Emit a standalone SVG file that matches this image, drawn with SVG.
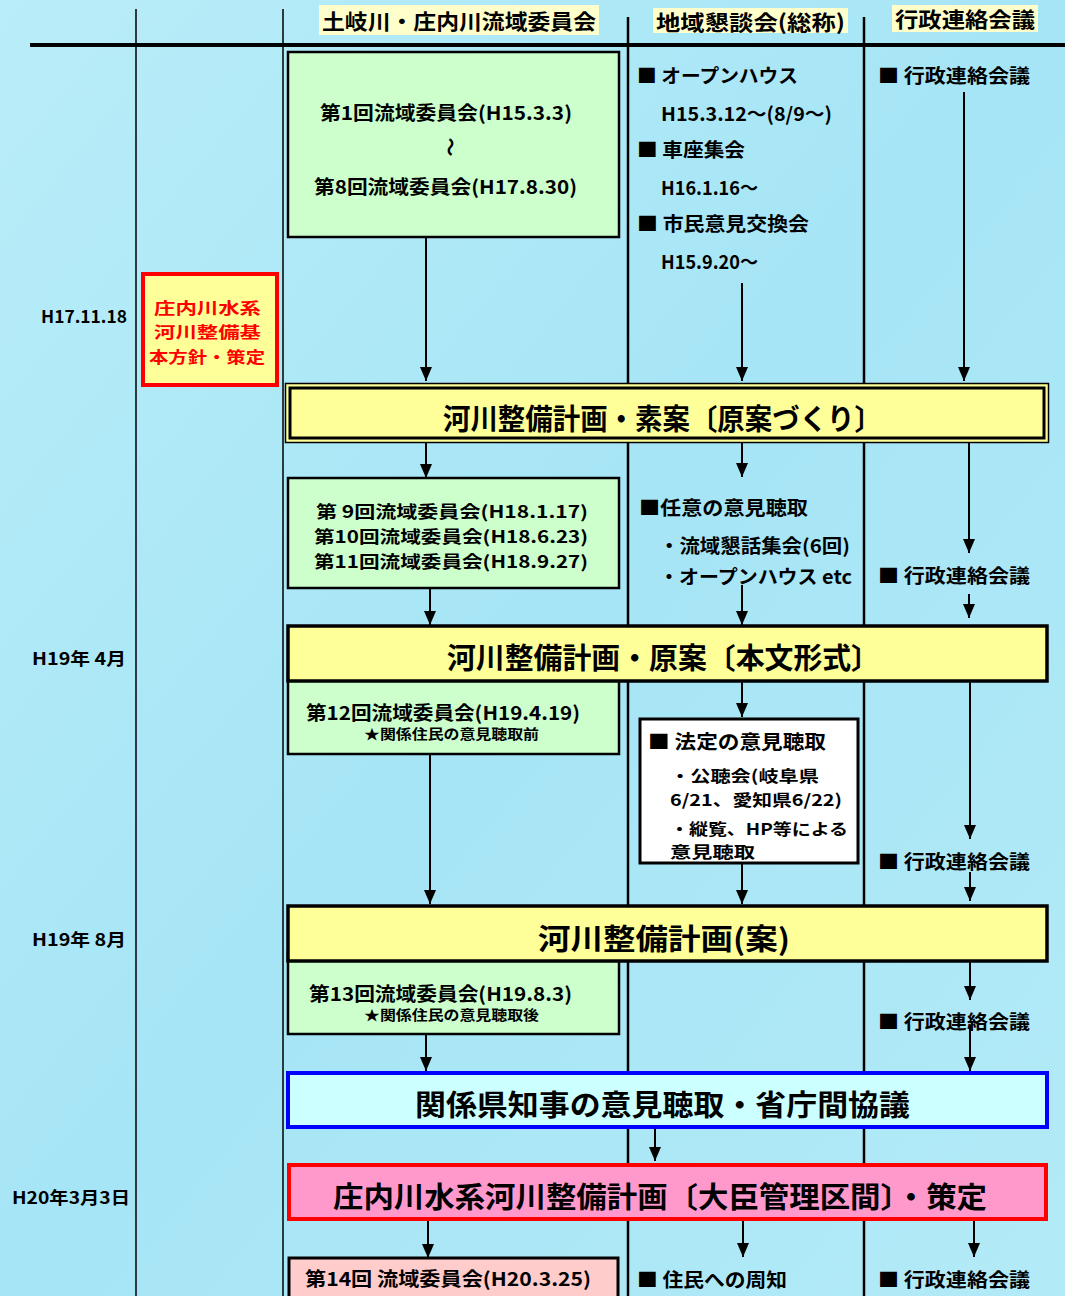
<svg xmlns="http://www.w3.org/2000/svg" width="1065" height="1296" viewBox="0 0 1065 1296">
<defs>
<linearGradient id="bg" x1="0" y1="0" x2="1" y2="1">
<stop offset="0" stop-color="#B9EDF8"/>
<stop offset="0.5" stop-color="#A6E5F6"/>
<stop offset="1" stop-color="#B3EAF7"/>
</linearGradient>
<marker id="ahd" viewBox="0 0 14 12" refX="14" refY="6" markerWidth="14" markerHeight="12" markerUnits="userSpaceOnUse" orient="auto">
<path d="M0,0 L14,6 L0,12 Z" fill="#000"/>
</marker>
</defs>
<style>
text{font-family:"Noto Sans CJK JP","Noto Sans CJK SC",sans-serif;font-weight:bold;fill:#000;dominant-baseline:central}
.t19{font-size:19px}
.t16{font-size:16px}
.t17{font-size:17px}
.t14{font-size:14px}
.big{font-size:29px}
.hdr{font-size:21px}
.mid{text-anchor:middle}
.red{fill:#FF0000}
.box{stroke:#000;stroke-width:2.5}
.green{fill:#CCFFCC}
.conn line{stroke:#000;stroke-width:2;marker-end:url(#ahd)}
</style>
<rect x="0" y="0" width="1065" height="1296" fill="url(#bg)"/>
<g id="grid" stroke="#000">
<line x1="30" y1="45" x2="1065" y2="45" stroke-width="4"/>
<line x1="136" y1="9" x2="136" y2="1296" stroke-width="1.5"/>
<line x1="283" y1="9" x2="283" y2="1296" stroke-width="1.5"/>
<line x1="628" y1="17" x2="628" y2="1296" stroke-width="2.5"/>
<line x1="864" y1="17" x2="864" y2="1296" stroke-width="2.5"/>
</g>
<g id="headers">
<rect x="319" y="5" width="280" height="30" fill="#FFFFCC"/>
<text class="hdr" x="322" y="20" textLength="274" lengthAdjust="spacingAndGlyphs">土岐川・庄内川流域委員会</text>
<rect x="653" y="8" width="195" height="25" fill="#FFFFCC"/>
<text class="hdr" x="656" y="21" textLength="189" lengthAdjust="spacingAndGlyphs">地域懇談会(総称)</text>
<rect x="892" y="5" width="146" height="27" fill="#FFFFCC"/>
<text class="hdr" x="895" y="18" textLength="140" lengthAdjust="spacingAndGlyphs">行政連絡会議</text>
</g>
<g id="dates">
<text class="t17" x="41" y="315" textLength="86" lengthAdjust="spacingAndGlyphs">H17.11.18</text>
<text class="t17" x="32" y="657" textLength="94" lengthAdjust="spacingAndGlyphs">H19年 4月</text>
<text class="t17" x="32" y="938" textLength="94" lengthAdjust="spacingAndGlyphs">H19年 8月</text>
<text class="t17" x="12" y="1196" textLength="118" lengthAdjust="spacingAndGlyphs">H20年3月3日</text>
</g>
<g class="conn">
<line x1="426" y1="237" x2="426" y2="381"/>
<line x1="742" y1="283" x2="742" y2="381"/>
<line x1="964" y1="92" x2="964" y2="381"/>
<line x1="426" y1="442" x2="426" y2="478"/>
<line x1="742" y1="442" x2="742" y2="477"/>
<line x1="969" y1="442" x2="969" y2="553"/>
<line x1="430" y1="588" x2="430" y2="625"/>
<line x1="742" y1="585" x2="742" y2="625"/>
<line x1="969" y1="594" x2="969" y2="618"/>
<line x1="742" y1="682" x2="742" y2="717"/>
<line x1="430" y1="754" x2="430" y2="904"/>
<line x1="742" y1="863" x2="742" y2="904"/>
<line x1="970" y1="682" x2="970" y2="839"/>
<line x1="970" y1="872" x2="970" y2="901"/>
<line x1="970" y1="962" x2="970" y2="1000"/>
<line x1="970" y1="1025" x2="970" y2="1071"/>
<line x1="426" y1="1034" x2="426" y2="1071"/>
<line x1="655" y1="1128" x2="655" y2="1161"/>
<line x1="428" y1="1220" x2="428" y2="1258"/>
<line x1="743" y1="1220" x2="743" y2="1257"/>
<line x1="974" y1="1220" x2="974" y2="1257"/>
</g>
<g id="committee1">
<rect class="box green" x="288" y="52" width="331" height="185"/>
<text class="t19" x="320" y="111" textLength="252" lengthAdjust="spacingAndGlyphs">第1回流域委員会(H15.3.3)</text>
<text class="t19 mid" x="0" y="0" transform="translate(451,147) rotate(90)">～</text>
<text class="t19" x="314" y="185" textLength="263" lengthAdjust="spacingAndGlyphs">第8回流域委員会(H17.8.30)</text>
</g>
<g id="regional1">
<text class="t19" x="637" y="74" textLength="161" lengthAdjust="spacingAndGlyphs">■ オープンハウス</text>
<text class="t19" x="661" y="112" textLength="171" lengthAdjust="spacingAndGlyphs">H15.3.12～(8/9～)</text>
<text class="t19" x="637" y="148" textLength="108" lengthAdjust="spacingAndGlyphs">■ 車座集会</text>
<text class="t19" x="661" y="186" textLength="97" lengthAdjust="spacingAndGlyphs">H16.1.16～</text>
<text class="t19" x="637" y="222" textLength="172" lengthAdjust="spacingAndGlyphs">■ 市民意見交換会</text>
<text class="t19" x="661" y="260" textLength="97" lengthAdjust="spacingAndGlyphs">H15.9.20～</text>
</g>
<g id="admin1">
<text class="t19" x="878" y="74" textLength="152" lengthAdjust="spacingAndGlyphs">■ 行政連絡会議</text>
</g>
<g id="policy">
<rect x="143" y="274" width="134" height="111" fill="#FFFF99" stroke="#FF0000" stroke-width="4"/>
<text class="t16 red" x="154" y="307" textLength="107" lengthAdjust="spacingAndGlyphs">庄内川水系</text>
<text class="t16 red" x="154" y="331" textLength="107" lengthAdjust="spacingAndGlyphs">河川整備基</text>
<text class="t16 red" x="149" y="356" textLength="116" lengthAdjust="spacingAndGlyphs">本方針・策定</text>
</g>
<g id="draft1">
<rect x="285.5" y="383.5" width="763" height="59" fill="#FFFF99" stroke="#000" stroke-width="1.5"/>
<rect x="290" y="388" width="754" height="50" fill="none" stroke="#000" stroke-width="3"/>
<text class="big" x="443" y="417" textLength="439" lengthAdjust="spacingAndGlyphs">河川整備計画・素案〔原案づくり〕</text>
</g>
<g id="committee2">
<rect class="box green" x="288" y="478" width="331" height="110"/>
<text class="t17" x="316" y="510" textLength="272" lengthAdjust="spacingAndGlyphs">第 9回流域委員会(H18.1.17)</text>
<text class="t17" x="314" y="535" textLength="274" lengthAdjust="spacingAndGlyphs">第10回流域委員会(H18.6.23)</text>
<text class="t17" x="314" y="560" textLength="274" lengthAdjust="spacingAndGlyphs">第11回流域委員会(H18.9.27)</text>
</g>
<g id="regional2">
<text class="t19" x="639" y="506" textLength="169" lengthAdjust="spacingAndGlyphs">■任意の意見聴取</text>
<text class="t19" x="659" y="544" textLength="191" lengthAdjust="spacingAndGlyphs">・流域懇話集会(6回)</text>
<text class="t19" x="659" y="575" textLength="193" lengthAdjust="spacingAndGlyphs">・オープンハウス  etc</text>
</g>
<g id="admin2">
<text class="t19" x="878" y="574" textLength="152" lengthAdjust="spacingAndGlyphs">■ 行政連絡会議</text>
</g>
<g id="committee3">
<rect class="box green" x="288" y="672" width="331" height="82"/>
<text class="t19" x="306" y="711" textLength="274" lengthAdjust="spacingAndGlyphs">第12回流域委員会(H19.4.19)</text>
<text class="t14" x="364" y="733" textLength="175" lengthAdjust="spacingAndGlyphs">★関係住民の意見聴取前</text>
</g>
<g id="draft2">
<rect x="288" y="626" width="759" height="55" fill="#FFFF99" stroke="#000" stroke-width="3.5"/>
<text class="big" x="447" y="656" textLength="433" lengthAdjust="spacingAndGlyphs">河川整備計画・原案〔本文形式〕</text>
</g>
<g id="legal">
<rect x="640" y="719" width="218" height="144" fill="#FFFFFF" stroke="#000" stroke-width="3"/>
<text class="t19" x="648" y="740" textLength="178" lengthAdjust="spacingAndGlyphs">■ 法定の意見聴取</text>
<text class="t16" x="670" y="775" textLength="149" lengthAdjust="spacingAndGlyphs">・公聴会(岐阜県</text>
<text class="t16" x="670" y="799" textLength="172" lengthAdjust="spacingAndGlyphs">6/21、愛知県6/22)</text>
<text class="t16" x="670" y="828" textLength="178" lengthAdjust="spacingAndGlyphs">・縦覧、HP等による</text>
<text class="t16" x="670" y="851" textLength="85" lengthAdjust="spacingAndGlyphs">意見聴取</text>
</g>
<g id="admin3">
<text class="t19" x="878" y="860" textLength="152" lengthAdjust="spacingAndGlyphs">■ 行政連絡会議</text>
</g>
<g id="committee4">
<rect class="box green" x="288" y="952" width="331" height="82"/>
<text class="t19" x="309" y="992" textLength="263" lengthAdjust="spacingAndGlyphs">第13回流域委員会(H19.8.3)</text>
<text class="t14" x="364" y="1014" textLength="175" lengthAdjust="spacingAndGlyphs">★関係住民の意見聴取後</text>
</g>
<g id="draft3">
<rect x="288" y="906" width="759" height="55" fill="#FFFF99" stroke="#000" stroke-width="3.5"/>
<text class="big" x="538" y="937" textLength="252" lengthAdjust="spacingAndGlyphs">河川整備計画(案)</text>
</g>
<g id="admin4">
<text class="t19" x="878" y="1020" textLength="152" lengthAdjust="spacingAndGlyphs">■ 行政連絡会議</text>
</g>
<g id="consult">
<rect x="288" y="1073" width="759" height="54" fill="#CCFFFF" stroke="#0000FF" stroke-width="4"/>
<text class="big" x="415" y="1103" textLength="495" lengthAdjust="spacingAndGlyphs">関係県知事の意見聴取・省庁間協議</text>
</g>
<g id="final">
<rect x="289" y="1165" width="757" height="54" fill="#FF99CC" stroke="#FF0000" stroke-width="4"/>
<text class="big" x="333" y="1195" textLength="654" lengthAdjust="spacingAndGlyphs">庄内川水系河川整備計画〔大臣管理区間〕・策定</text>
</g>
<g id="committee5">
<rect x="289" y="1258" width="329" height="40" fill="#FFCCCC" stroke="#000" stroke-width="3"/>
<text class="t19" x="305" y="1277" textLength="286" lengthAdjust="spacingAndGlyphs">第14回  流域委員会(H20.3.25)</text>
</g>
<g id="notice">
<text class="t19" x="637" y="1278" textLength="150" lengthAdjust="spacingAndGlyphs">■ 住民への周知</text>
</g>
<g id="admin5">
<text class="t19" x="878" y="1278" textLength="152" lengthAdjust="spacingAndGlyphs">■ 行政連絡会議</text>
</g>
</svg>
